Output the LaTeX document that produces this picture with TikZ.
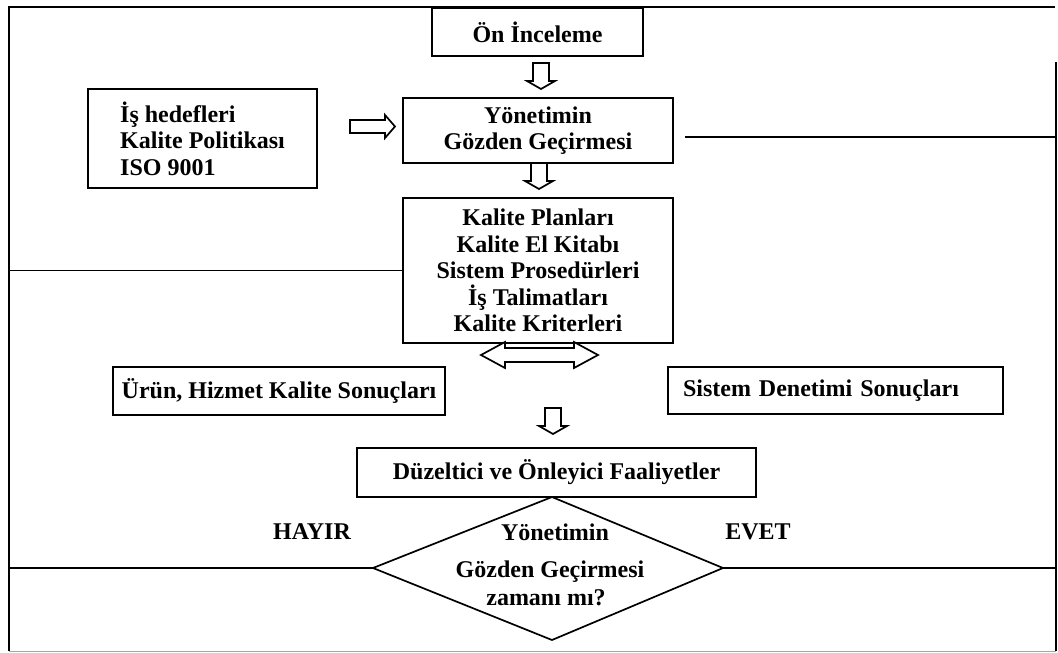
\documentclass[tikz,border=0pt]{standalone}
\usepackage{fontspec}
\setmainfont{Liberation Serif}
\usetikzlibrary{calc}
\begin{document}
\begin{tikzpicture}[x=1pt,y=-1pt,
  txt/.style={font=\bfseries\fontsize{24}{26.5}\selectfont},
  box/.style={txt, draw, line width=1.7pt, inner sep=0pt, align=center},
  lbl/.style={txt, inner sep=0pt, align=center},
  rule/.style={line width=1.7pt},
  hollow/.style={draw, line width=1.7pt, line join=miter, fill=white},
  downblock/.pic={\draw[hollow] (-8,0) -- (-8,18) -- (-14,18) -- (0,26) -- (14,18) -- (8,18) -- (8,0) -- cycle;},
  rightblock/.pic={\draw[hollow] (0,-6.5) -- (35,-6.5) -- (35,-11.5) -- (45,0) -- (35,11.5) -- (35,6.5) -- (0,6.5) -- cycle;},
  bothblock/.pic={\draw[hollow] (-58.5,0) -- (-34.5,-13) -- (-34.5,-7) -- (34.5,-7) -- (34.5,-13) -- (58.5,0) -- (34.5,13) -- (34.5,7) -- (-34.5,7) -- (-34.5,13) -- cycle;},
]
\useasboundingbox (0,0) rectangle (1058,653);

% outer frame
\coordinate (TL) at (9,7);
\coordinate (TR) at (1055,7);
\coordinate (RT) at (1056,62);
\coordinate (BL) at (9,651);
\coordinate (BR) at (1056,651);
\draw[rule] (BL) -- (TL) -- (TR);
\draw[rule] (RT) -- (BR);
\draw[line width=1pt, black!35] (BL) -- (BR);

% boxes
\node[box, minimum width=211pt, minimum height=48pt] (on) at (537.5,32) {Ön İnceleme};
\node[box, minimum width=270pt, minimum height=65pt] (yon) at (538,130.5) {Yönetimin\\Gözden Geçirmesi};
\node[box, minimum width=270pt, minimum height=145pt] (kal) at (538,270.5)
  {Kalite Planları\\Kalite El Kitabı\\Sistem Prosedürleri\\İş Talimatları\\Kalite Kriterleri};
\node[box, align=left, minimum width=229pt, minimum height=99pt] (hed) at (202.5,138.5)
  {İş hedefleri\\Kalite Politikası\\ISO 9001};
\node[box, minimum width=332pt, minimum height=48pt] (urun) at (279,391) {Ürün, Hizmet Kalite Sonuçları};
\node[box, align=left, text width=305pt, inner xsep=15pt, minimum height=47pt] (sis) at (835.5,390.5) {Sistem Denetimi Sonuçları};
\node[box, minimum width=399pt, minimum height=49pt] (duz) at (556.5,472.5) {Düzeltici ve Önleyici Faaliyetler};

% decision diamond
\coordinate (dt) at (552,497);
\coordinate (dl) at (373,568);
\coordinate (dr) at (723,568);
\coordinate (db) at (552,640);
\draw[rule, line join=miter] (dt) -- (dr) -- (db) -- (dl) -- cycle;
\node[lbl] (q1) at (555,532) {Yönetimin};
\node[lbl] (q2) at (550,572) {Gözden Geçirmesi};
\node[lbl] (q3) at (546,598) {zamanı mı?};
\node[lbl] (hayir) at (312,532) {HAYIR};
\node[lbl] (evet) at (758,532) {EVET};

% feedback lines
\draw[rule] (kal.west) -- (kal.west -| TL);
\coordinate (r1) at (685,137);
\draw[rule] (r1) -- (r1 -| RT);
\draw[rule] (dl) -- (dl -| TL);
\draw[rule] (dr) -- (dr -| RT);

% block arrows
\coordinate (a1) at (541,63);
\coordinate (a2) at (539,163);
\coordinate (a3) at (553,408);
\coordinate (a4) at (350,126.5);
\coordinate (a5) at (539.5,355);
\pic at (a1) {downblock};
\pic at (a2) {downblock};
\pic at (a3) {downblock};
\pic at (a4) {rightblock};
\pic at (a5) {bothblock};
\end{tikzpicture}
\end{document}
